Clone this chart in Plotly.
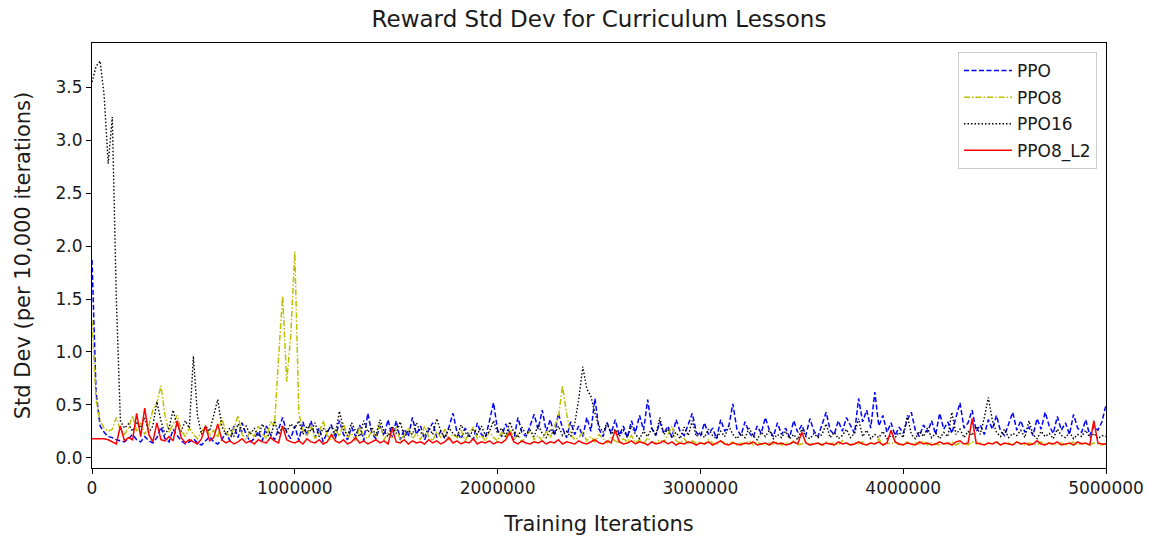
import plotly.graph_objects as go

# Training iterations (one sample every 20,000 iterations)
iterations = list(range(0, 5_000_001, 20_000))

series_names = ["PPO", "PPO8", "PPO16", "PPO8_L2"]

ppo = [
    1.87, 0.62, 0.30, 0.24, 0.20, 0.19, 0.17, 0.16, 0.15, 0.18,
    0.22, 0.17, 0.15, 0.20, 0.16, 0.14, 0.19, 0.29, 0.18, 0.15,
    0.27, 0.21, 0.16, 0.13, 0.15, 0.18, 0.14, 0.12, 0.16, 0.20,
    0.15, 0.13, 0.17, 0.24, 0.16, 0.30, 0.19, 0.33, 0.22, 0.15,
    0.18, 0.25, 0.16, 0.30, 0.22, 0.17, 0.27, 0.38, 0.24, 0.18,
    0.30, 0.16, 0.34, 0.21, 0.35, 0.19, 0.28, 0.15, 0.24, 0.31,
    0.18, 0.35, 0.22, 0.17, 0.29, 0.20, 0.31, 0.16, 0.42, 0.23,
    0.18, 0.30, 0.21, 0.36, 0.19, 0.35, 0.17, 0.27, 0.20, 0.38,
    0.22, 0.30, 0.17, 0.26, 0.33, 0.19, 0.25, 0.18, 0.29, 0.42,
    0.24, 0.18, 0.28, 0.21, 0.17, 0.33, 0.22, 0.19, 0.35, 0.52,
    0.26, 0.20, 0.32, 0.23, 0.17, 0.38, 0.24, 0.20, 0.30, 0.41,
    0.27, 0.45, 0.25, 0.36, 0.21, 0.42, 0.28, 0.19, 0.34, 0.22,
    0.30, 0.20, 0.38, 0.25, 0.56, 0.27, 0.20, 0.33, 0.23, 0.36,
    0.21, 0.30, 0.19, 0.35, 0.24, 0.40, 0.26, 0.55, 0.28, 0.21,
    0.34, 0.23, 0.30, 0.19, 0.36, 0.25, 0.21, 0.31, 0.42, 0.24,
    0.20, 0.33, 0.22, 0.28, 0.18, 0.36, 0.25, 0.30, 0.51, 0.27,
    0.21, 0.34, 0.24, 0.19, 0.30, 0.23, 0.38, 0.26, 0.20, 0.33,
    0.22, 0.28, 0.19, 0.35, 0.24, 0.31, 0.21, 0.37, 0.25, 0.20,
    0.32, 0.43, 0.26, 0.22, 0.35, 0.25, 0.38, 0.30, 0.23, 0.56,
    0.34, 0.45, 0.28, 0.62, 0.30, 0.40, 0.24, 0.33, 0.21, 0.29,
    0.23, 0.36, 0.43, 0.26, 0.20, 0.31, 0.24, 0.35, 0.22, 0.42,
    0.27, 0.34, 0.23, 0.38, 0.52, 0.28, 0.33, 0.45, 0.25, 0.31,
    0.22, 0.36, 0.27, 0.40, 0.25, 0.21, 0.33, 0.43, 0.26, 0.35,
    0.24, 0.29, 0.21, 0.37, 0.27, 0.43, 0.30, 0.23, 0.39, 0.26,
    0.33, 0.22, 0.41, 0.28, 0.24, 0.36, 0.21, 0.30, 0.26, 0.34,
    0.50,
]

ppo8 = [
    1.30, 0.55, 0.35, 0.28, 0.25, 0.27, 0.38, 0.26, 0.22, 0.28,
    0.40, 0.25, 0.33, 0.22, 0.30, 0.45, 0.52, 0.68, 0.40, 0.24,
    0.32, 0.40, 0.26, 0.20, 0.28, 0.22, 0.18, 0.25, 0.30, 0.21,
    0.26, 0.19, 0.38, 0.24, 0.20, 0.28, 0.40, 0.22, 0.17, 0.25,
    0.20, 0.30, 0.23, 0.18, 0.34, 0.30, 0.95, 1.53, 0.72, 1.15,
    1.95, 0.42, 0.26, 0.20, 0.31, 0.18, 0.24, 0.35, 0.21, 0.17,
    0.27, 0.20, 0.33, 0.19, 0.23, 0.16, 0.29, 0.21, 0.18, 0.26,
    0.20, 0.33, 0.17, 0.24, 0.19, 0.29, 0.16, 0.22, 0.28, 0.18,
    0.23, 0.17, 0.30, 0.20, 0.16, 0.25, 0.19, 0.27, 0.17, 0.22,
    0.19, 0.26, 0.16, 0.23, 0.29, 0.18, 0.21, 0.16, 0.25, 0.19,
    0.16, 0.24, 0.19, 0.28, 0.17, 0.22, 0.15, 0.20, 0.26, 0.17,
    0.21, 0.16, 0.25, 0.19, 0.30, 0.38, 0.68, 0.42, 0.22, 0.17,
    0.19, 0.24, 0.16, 0.20, 0.15, 0.22, 0.18, 0.14, 0.19, 0.16,
    0.14, 0.18, 0.15, 0.21, 0.14, 0.17, 0.13, 0.19, 0.15, 0.14,
    0.17, 0.15, 0.22, 0.30, 0.16, 0.14, 0.18, 0.13, 0.16, 0.14,
    0.15, 0.13, 0.17, 0.14, 0.12, 0.16, 0.14, 0.13, 0.15, 0.12,
    0.14, 0.13, 0.16, 0.12, 0.15, 0.13, 0.12, 0.14, 0.13, 0.15,
    0.12, 0.14, 0.13, 0.16, 0.12, 0.13, 0.15, 0.12, 0.14, 0.13,
    0.12, 0.15, 0.13, 0.14, 0.12, 0.16, 0.13, 0.12, 0.14, 0.13,
    0.15, 0.12, 0.14, 0.13, 0.18, 0.12, 0.14, 0.13, 0.15, 0.12,
    0.13, 0.15, 0.12, 0.14, 0.13, 0.16, 0.12, 0.14, 0.13, 0.12,
    0.14, 0.13, 0.15, 0.12, 0.14, 0.13, 0.12, 0.15, 0.13, 0.14,
    0.12, 0.14, 0.13, 0.15, 0.12, 0.13, 0.14, 0.12, 0.15, 0.13,
    0.12, 0.14, 0.13, 0.12, 0.15, 0.13, 0.14, 0.12, 0.13, 0.14,
    0.12, 0.13, 0.15, 0.12, 0.14, 0.13, 0.12, 0.14, 0.13, 0.12,
    0.13,
]

ppo16 = [
    3.55, 3.70, 3.75, 3.42, 2.78, 3.22, 1.50, 0.35, 0.28, 0.32,
    0.25, 0.34, 0.28, 0.38, 0.24, 0.30, 0.53, 0.35, 0.22, 0.28,
    0.45, 0.30, 0.25, 0.35, 0.28, 0.96, 0.40, 0.22, 0.30, 0.25,
    0.40, 0.55, 0.30, 0.22, 0.28, 0.20, 0.32, 0.25, 0.30, 0.22,
    0.28, 0.20, 0.32, 0.24, 0.18, 0.35, 0.22, 0.30, 0.25, 0.32,
    0.28, 0.35, 0.22, 0.30, 0.25, 0.33, 0.20, 0.28, 0.24, 0.31,
    0.22, 0.44, 0.27, 0.21, 0.33, 0.25, 0.20, 0.35, 0.24, 0.29,
    0.21, 0.36, 0.25, 0.20, 0.30, 0.23, 0.34, 0.19, 0.26, 0.22,
    0.33, 0.24, 0.20, 0.29, 0.22, 0.37, 0.25, 0.19, 0.28, 0.23,
    0.20, 0.31, 0.24, 0.19, 0.27, 0.22, 0.30, 0.21, 0.25, 0.35,
    0.23, 0.28, 0.20, 0.34, 0.24, 0.19, 0.29, 0.22, 0.26, 0.20,
    0.31, 0.23, 0.19, 0.27, 0.22, 0.30, 0.21, 0.25, 0.20, 0.32,
    0.55, 0.86, 0.65, 0.58, 0.42, 0.30, 0.24, 0.33, 0.22, 0.27,
    0.20, 0.26, 0.19, 0.30, 0.22, 0.18, 0.25, 0.20, 0.28, 0.21,
    0.38, 0.22, 0.27, 0.19, 0.24, 0.18, 0.29, 0.21, 0.35, 0.20,
    0.24, 0.19, 0.27, 0.21, 0.18, 0.25, 0.20, 0.30, 0.22, 0.18,
    0.23, 0.19, 0.28, 0.21, 0.17, 0.24, 0.20, 0.26, 0.18, 0.22,
    0.19, 0.25, 0.18, 0.22, 0.17, 0.27, 0.20, 0.18, 0.23, 0.19,
    0.22, 0.32, 0.19, 0.24, 0.18, 0.21, 0.27, 0.19, 0.23, 0.37,
    0.20, 0.26, 0.18, 0.22, 0.19, 0.25, 0.18, 0.21, 0.19, 0.24,
    0.19, 0.40, 0.22, 0.18, 0.25, 0.20, 0.28, 0.19, 0.23, 0.18,
    0.24, 0.20, 0.43, 0.22, 0.27, 0.19, 0.25, 0.21, 0.30, 0.22,
    0.38, 0.57, 0.35, 0.24, 0.20, 0.27, 0.19, 0.23, 0.21, 0.26,
    0.19, 0.35, 0.22, 0.18, 0.25, 0.20, 0.23, 0.18, 0.27, 0.21,
    0.19, 0.24, 0.18, 0.22, 0.20, 0.26, 0.19, 0.23, 0.18, 0.21,
    0.20,
]

ppo8_l2 = [
    0.18, 0.18, 0.18, 0.18, 0.17, 0.15, 0.13, 0.30, 0.16, 0.19,
    0.17, 0.42, 0.20, 0.47, 0.22, 0.15, 0.33, 0.17, 0.16, 0.20,
    0.16, 0.35, 0.19, 0.14, 0.17, 0.15, 0.13, 0.18, 0.30, 0.16,
    0.19, 0.32, 0.17, 0.14, 0.16, 0.13, 0.15, 0.18, 0.14, 0.16,
    0.13, 0.17, 0.15, 0.14, 0.19, 0.16, 0.14, 0.30, 0.17, 0.15,
    0.14, 0.16, 0.13, 0.18, 0.15, 0.14, 0.17, 0.13, 0.15, 0.22,
    0.16, 0.14, 0.17, 0.13, 0.15, 0.19, 0.14, 0.16, 0.13, 0.15,
    0.17, 0.14, 0.16, 0.13, 0.28, 0.15, 0.14, 0.17, 0.13, 0.16,
    0.14, 0.15, 0.13, 0.17, 0.14, 0.16, 0.13, 0.15, 0.19, 0.14,
    0.16, 0.13, 0.15, 0.14, 0.18, 0.13, 0.15, 0.14, 0.16, 0.13,
    0.15, 0.14, 0.17, 0.24, 0.15, 0.13, 0.16, 0.14, 0.13, 0.15,
    0.14, 0.16, 0.13, 0.15, 0.14, 0.17, 0.13, 0.15, 0.14, 0.13,
    0.16, 0.14, 0.13, 0.15, 0.17, 0.14, 0.13, 0.16, 0.14, 0.26,
    0.15, 0.13, 0.14, 0.16, 0.13, 0.15, 0.14, 0.12, 0.15, 0.13,
    0.14, 0.16, 0.13, 0.15, 0.12, 0.14, 0.13, 0.15, 0.14, 0.12,
    0.14, 0.13, 0.15, 0.12, 0.14, 0.16, 0.13, 0.12, 0.14, 0.13,
    0.12, 0.14, 0.13, 0.15, 0.12, 0.13, 0.14, 0.12, 0.15, 0.13,
    0.14, 0.12, 0.13, 0.15, 0.13, 0.24, 0.14, 0.12, 0.13, 0.14,
    0.12, 0.14, 0.13, 0.12, 0.15, 0.13, 0.14, 0.12, 0.13, 0.15,
    0.13, 0.12, 0.14, 0.13, 0.15, 0.12, 0.14, 0.26, 0.15, 0.13,
    0.12, 0.14, 0.13, 0.12, 0.15, 0.13, 0.14, 0.12, 0.13, 0.15,
    0.13, 0.14, 0.12, 0.15, 0.16, 0.13, 0.14, 0.37, 0.14, 0.13,
    0.12, 0.14, 0.13, 0.15, 0.12, 0.14, 0.13, 0.12, 0.15, 0.13,
    0.14, 0.12, 0.13, 0.16, 0.13, 0.12, 0.14, 0.13, 0.15, 0.12,
    0.13, 0.14, 0.12, 0.15, 0.13, 0.14, 0.12, 0.35, 0.14, 0.13,
    0.13,
]

x_tick_values = [0, 1_000_000, 2_000_000, 3_000_000, 4_000_000, 5_000_000]
y_tick_values = [0.0, 0.5, 1.0, 1.5, 2.0, 2.5, 3.0, 3.5]

for arr in (ppo, ppo8, ppo16, ppo8_l2):
    assert len(arr) == len(iterations), len(arr)

FONT = "DejaVu Sans"
TXT = "#1a1a1a"
FIG_W, FIG_H = 1149, 536

line_styles = [
    dict(color="#0000ff", dash="5px,2.5px", width=1.5),
    dict(color="#bfbf00", dash="6px,2px,1.5px,2px", width=1.5),
    dict(color="#000000", dash="1.5px,2px", width=1.4),
    dict(color="#ff0000", width=1.5),
]

fig = go.Figure()
for name, values, style in zip(series_names, [ppo, ppo8, ppo16, ppo8_l2], line_styles):
    fig.add_trace(go.Scatter(
        x=iterations, y=values, mode="lines", name=name,
        line=style, legendgroup=name,
    ))

axis_common = dict(
    showline=True, linecolor="#000000", linewidth=1, mirror=True,
    ticks="outside", ticklen=5, tickwidth=1, tickcolor="#000000",
    showgrid=False, zeroline=False, automargin=False,
    tickfont=dict(family=FONT, size=17, color=TXT),
)

fig.update_layout(
    width=FIG_W, height=FIG_H,
    margin=dict(l=92, r=43, t=43, b=68, autoexpand=False),
    paper_bgcolor="white", plot_bgcolor="white",
    font=dict(family=FONT, color=TXT),
    title=dict(
        text="Reward Std Dev for Curriculum Lessons",
        font=dict(family=FONT, size=23, color=TXT),
        x=0.5, xref="paper", xanchor="center",
        y=1 - 19 / FIG_H, yref="container", yanchor="middle",
    ),
    xaxis=dict(
        **axis_common,
        range=[0, 5_000_000],
        tickvals=x_tick_values, tickformat="d",
        title=dict(text="Training Iterations",
                   font=dict(family=FONT, size=21, color=TXT), standoff=20),
    ),
    yaxis=dict(
        **axis_common,
        range=[-0.097, 3.92],
        tickvals=y_tick_values, tickformat=".1f",
        title=dict(text="Std Dev (per 10,000 iterations)",
                   font=dict(family=FONT, size=21, color=TXT), standoff=19),
    ),
    legend=dict(
        x=(1097 - 92) / 1014, xanchor="right",
        y=(468 - 52) / 425, yanchor="top",
        bgcolor="rgba(255,255,255,0.8)",
        bordercolor="#cccccc", borderwidth=1,
        font=dict(family=FONT, size=17, color=TXT),
        traceorder="grouped", tracegroupgap=1.5,
        itemwidth=48,
    ),
    showlegend=True,
)

# Remove the page's default body margin so the figure fills the window exactly.
fig.write_html(
    "out.html",
    config={"displayModeBar": False},
    post_script="document.body.style.margin='0px';document.body.style.overflow='hidden';",
)
